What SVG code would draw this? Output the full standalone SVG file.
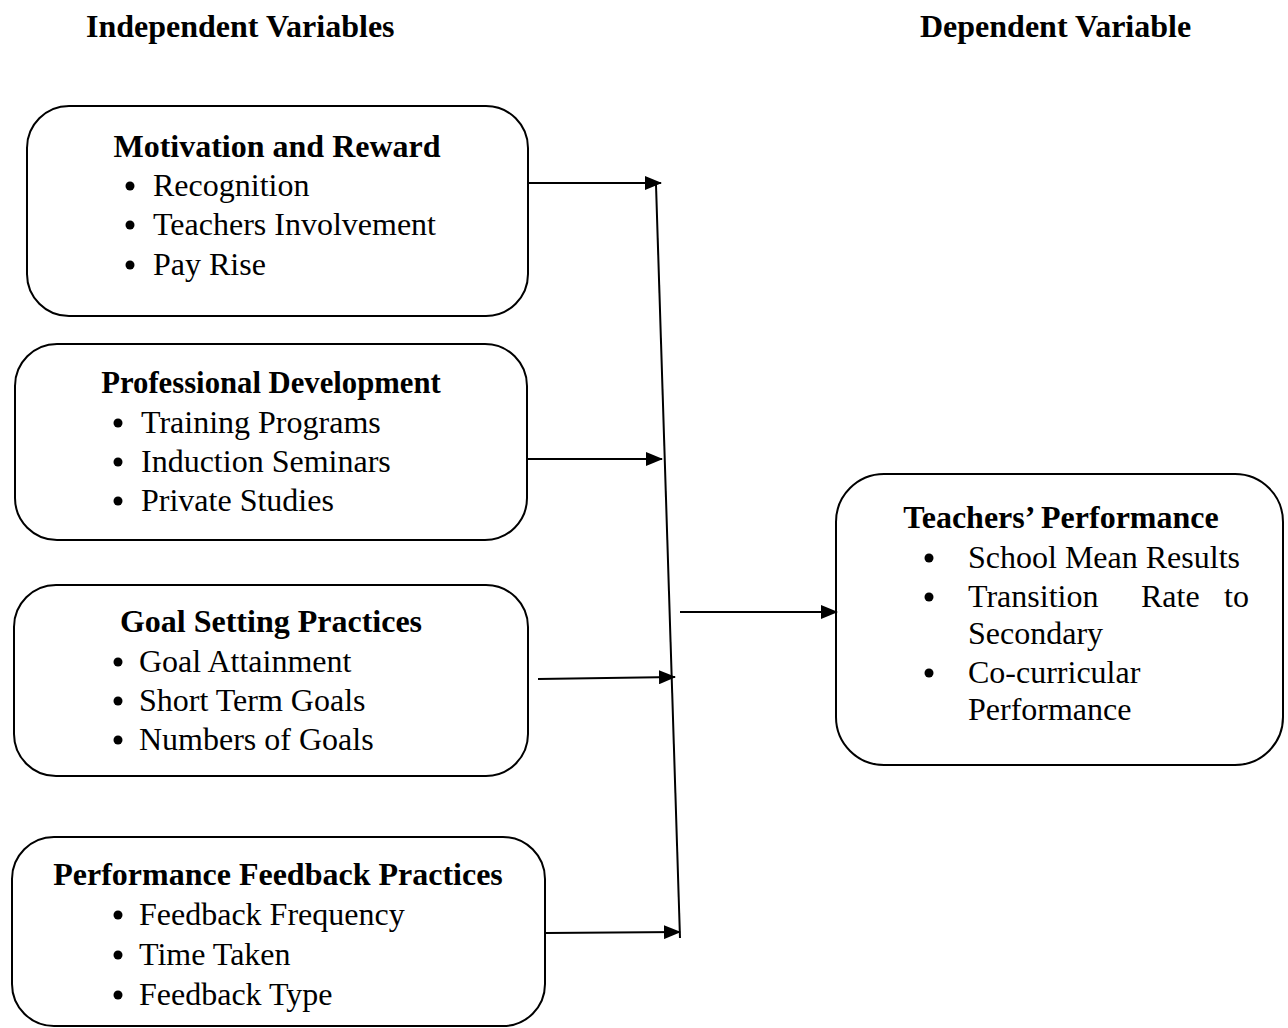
<svg xmlns="http://www.w3.org/2000/svg" width="1288" height="1028" viewBox="0 0 1288 1028">
<style>
.bg{fill:#ffffff}
.box{fill:#ffffff;stroke:#000;stroke-width:2}
.h{font-family:"Liberation Serif","Times New Roman",serif;font-weight:bold;font-size:32px;fill:#000}
.t{font-family:"Liberation Serif","Times New Roman",serif;font-weight:bold;font-size:32px;fill:#000;text-anchor:middle}
.i{font-family:"Liberation Serif","Times New Roman",serif;font-size:32px;fill:#000}
.b{fill:#000}
.ln{stroke:#000;stroke-width:2;fill:none}
</style>
<defs>
<marker id="arr" markerWidth="17" markerHeight="14" refX="16" refY="7" orient="auto" markerUnits="userSpaceOnUse">
<path d="M0,0 L17,7 L0,14 Z" fill="#000"/>
</marker>
</defs>
<rect class="bg" x="0" y="0" width="1288" height="1028"/>
<text class="h" x="86" y="37">Independent Variables</text>
<text class="h" x="920" y="37">Dependent Variable</text>

<g id="n1">
<rect class="box" x="27" y="106" width="501" height="210" rx="42"/>
<text class="t" x="277" y="157">Motivation and Reward</text>
<circle class="b" cx="130" cy="186" r="4.5"/><text class="i" x="153" y="196">Recognition</text>
<circle class="b" cx="130" cy="225" r="4.5"/><text class="i" x="153" y="235">Teachers Involvement</text>
<circle class="b" cx="130" cy="265" r="4.5"/><text class="i" x="153" y="275">Pay Rise</text>
</g>

<g id="n2">
<rect class="box" x="15" y="344" width="512" height="196" rx="42"/>
<text class="t" x="271" y="393" style="font-size:30.7px">Professional Development</text>
<circle class="b" cx="118" cy="423" r="4.5"/><text class="i" x="141" y="433">Training Programs</text>
<circle class="b" cx="118" cy="462" r="4.5"/><text class="i" x="141" y="472">Induction Seminars</text>
<circle class="b" cx="118" cy="501" r="4.5"/><text class="i" x="141" y="511">Private Studies</text>
</g>

<g id="n3">
<rect class="box" x="14" y="585" width="514" height="191" rx="42"/>
<text class="t" x="271" y="632">Goal Setting Practices</text>
<circle class="b" cx="118" cy="662" r="4.5"/><text class="i" x="139" y="672">Goal Attainment</text>
<circle class="b" cx="118" cy="701" r="4.5"/><text class="i" x="139" y="711">Short Term Goals</text>
<circle class="b" cx="118" cy="740" r="4.5"/><text class="i" x="139" y="750">Numbers of Goals</text>
</g>

<g id="n4">
<rect class="box" x="12" y="837" width="533" height="189" rx="42"/>
<text class="t" x="278" y="885">Performance Feedback Practices</text>
<circle class="b" cx="118" cy="915" r="4.5"/><text class="i" x="139" y="925">Feedback Frequency</text>
<circle class="b" cx="118" cy="955" r="4.5"/><text class="i" x="139" y="965">Time Taken</text>
<circle class="b" cx="118" cy="995" r="4.5"/><text class="i" x="139" y="1005">Feedback Type</text>
</g>

<g id="n5">
<rect class="box" x="836" y="474" width="447" height="291" rx="48"/>
<text class="t" x="1061" y="528">Teachers’ Performance</text>
<circle class="b" cx="929" cy="558" r="4.5"/><text class="i" x="968" y="568">School Mean Results</text>
<circle class="b" cx="929" cy="597" r="4.5"/><text class="i" x="968" y="607">Transition</text><text class="i" x="1141" y="607">Rate</text><text class="i" x="1249" y="607" text-anchor="end">to</text>
<text class="i" x="968" y="644">Secondary</text>
<circle class="b" cx="929" cy="673" r="4.5"/><text class="i" x="968" y="683">Co-curricular</text>
<text class="i" x="968" y="720">Performance</text>
</g>

<g id="connectors">
<line class="ln" x1="528" y1="183" x2="661" y2="183" marker-end="url(#arr)"/>
<line class="ln" x1="528" y1="459" x2="662" y2="459" marker-end="url(#arr)"/>
<line class="ln" x1="538" y1="679" x2="675" y2="677" marker-end="url(#arr)"/>
<line class="ln" x1="546" y1="933" x2="680" y2="932" marker-end="url(#arr)"/>
<line class="ln" x1="656" y1="185" x2="680" y2="938"/>
<line class="ln" x1="680" y1="612" x2="837" y2="612" marker-end="url(#arr)"/>
</g>
</svg>
